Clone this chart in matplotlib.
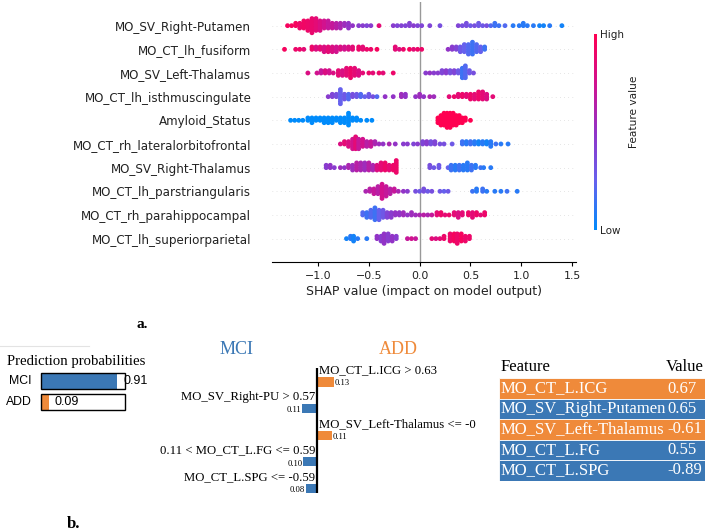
import matplotlib
matplotlib.use("Agg")
import matplotlib.pyplot as plt
import numpy as np
from matplotlib.colors import LinearSegmentedColormap
from matplotlib.cm import ScalarMappable
from matplotlib.lines import Line2D

W, H = 708, 532

# ---- SHAP summary data ----
features = ["MO_SV_Right-Putamen", "MO_CT_lh_fusiform", "MO_SV_Left-Thalamus",
            "MO_CT_lh_isthmuscingulate", "Amyloid_Status", "MO_CT_rh_lateralorbitofrontal",
            "MO_SV_Right-Thalamus", "MO_CT_lh_parstriangularis", "MO_CT_rh_parahippocampal",
            "MO_CT_lh_superiorparietal"]

# (shap value, dots stacked at that value, feature value 0=low .. 1=high)
right_putamen = [(-1.30,1,.95),(-1.26,1,.95),(-1.22,2,.95),(-1.18,3,.9),(-1.14,4,.92),(-1.10,5,.9),
                 (-1.06,7,.88),(-1.02,6,.85),(-0.98,5,.8),(-0.94,4,.75),(-0.90,4,.7),(-0.86,3,.7),
                 (-0.82,3,.65),(-0.78,3,.6),(-0.74,2,.55),(-0.70,3,.5),(-0.66,1,.5),(-0.60,1,.45),
                 (-0.56,1,.45),(-0.52,1,.4),(-0.48,1,.45),(-0.40,1,.85),(-0.26,1,.45),(-0.22,1,.4),
                 (-0.18,1,.42),(-0.14,1,.4),(-0.10,2,.42),(-0.06,1,.45),(-0.02,1,.4),(0.02,1,.4),
                 (0.10,1,.4),(0.20,1,.35),(0.38,1,.4),(0.42,1,.35),(0.46,2,.35),(0.50,1,.3),
                 (0.54,1,.35),(0.58,2,.3),(0.62,1,.3),(0.66,1,.35),(0.70,1,.2),(0.74,2,.15),
                 (0.78,1,.15),(0.84,1,.2),(0.92,1,.1),(0.98,1,.1),(1.02,2,.1),(1.06,1,.1),
                 (1.12,1,.1),(1.18,1,.05),(1.22,1,.05),(1.28,1,.1),(1.40,1,.05)]
lh_fusiform = [(-1.33,1,.95),(-1.22,1,.9),(-1.18,1,.9),(-1.14,1,.85),(-1.06,2,.9),(-1.02,2,.8),
               (-0.98,2,.85),(-0.94,3,.8),(-0.90,3,.85),(-0.86,3,.8),(-0.82,3,.75),(-0.78,2,.8),
               (-0.74,2,.75),(-0.70,2,.8),(-0.66,2,.85),(-0.60,2,.9),(-0.56,2,.85),(-0.52,1,.9),
               (-0.48,1,.9),(-0.42,1,.95),(-0.24,2,.85),(-0.20,1,.8),(-0.16,1,.9),(-0.10,1,.95),
               (-0.06,1,.85),(-0.02,1,.9),(0.02,1,.9),(0.28,1,.5),(0.32,2,.45),(0.36,2,.4),
               (0.40,3,.3),(0.44,4,.25),(0.48,5,.2),(0.52,6,.15),(0.56,4,.2),(0.60,3,.25),(0.64,2,.15)]
left_thalamus = [(-1.10,1,.8),(-1.01,1,.75),(-0.97,2,.7),(-0.93,2,.8),(-0.89,2,.75),(-0.85,1,.8),
                 (-0.80,3,.85),(-0.76,3,.8),(-0.72,4,.85),(-0.68,5,.9),(-0.64,4,.85),(-0.60,3,.8),
                 (-0.56,1,.85),(-0.50,1,.9),(-0.46,1,.85),(-0.40,1,.9),(-0.36,1,.85),(-0.26,1,.9),
                 (0.06,1,.45),(0.10,1,.5),(0.14,1,.45),(0.18,1,.45),(0.22,2,.4),(0.26,2,.45),
                 (0.30,2,.35),(0.34,2,.4),(0.38,2,.3),(0.42,5,.15),(0.45,6,.2),(0.49,2,.3),(0.53,1,.35)]
lh_isthmus = [(-0.90,1,.45),(-0.86,2,.4),(-0.82,2,.35),(-0.78,7,.25),(-0.74,3,.3),(-0.70,3,.2),
              (-0.66,2,.35),(-0.62,2,.3),(-0.58,2,.2),(-0.54,1,.25),(-0.50,2,.3),(-0.46,1,.35),
              (-0.42,1,.2),(-0.34,1,.5),(-0.26,1,.5),(-0.18,2,.55),(-0.14,2,.5),(-0.04,1,.5),
              (0.00,2,.55),(0.04,1,.5),(0.10,1,.6),(0.14,1,.55),(0.29,1,.85),(0.34,1,.9),
              (0.38,2,.85),(0.42,2,.9),(0.46,2,.85),(0.50,3,.9),(0.54,3,.85),(0.58,4,.9),
              (0.62,4,.85),(0.66,3,.8),(0.72,1,.85)]
amyloid = [(-1.27,1,0),(-1.23,1,0),(-1.19,1,0),(-1.15,1,0),(-1.10,2,0),(-1.06,3,0),(-1.02,2,0),
           (-0.98,2,0),(-0.94,3,0),(-0.90,3,0),(-0.86,3,0),(-0.82,2,0),(-0.78,3,0),(-0.74,3,0),
           (-0.70,6,0),(-0.66,2,0),(-0.62,2,0),(-0.58,1,0),(-0.52,1,0),(-0.47,1,0),
           (0.18,3,1),(0.21,5,1),(0.24,6,1),(0.27,7,1),(0.30,7,1),(0.33,6,1),(0.36,5,1),
           (0.39,4,1),(0.42,3,1),(0.45,2,1),(0.50,1,1)]
rh_latorb = [(-0.78,1,.8),(-0.74,2,.85),(-0.70,3,.8),(-0.66,5,.75),(-0.63,6,.85),(-0.60,5,.7),
             (-0.56,4,.75),(-0.52,3,.65),(-0.48,3,.7),(-0.44,2,.6),(-0.40,1,.55),(-0.36,1,.5),
             (-0.30,1,.6),(-0.24,1,.5),(-0.16,1,.45),(-0.12,1,.45),(-0.06,1,.4),(-0.02,1,.45),
             (0.03,2,.4),(0.07,2,.45),(0.11,2,.35),(0.15,2,.4),(0.20,1,.35),(0.24,1,.35),
             (0.32,1,.3),(0.42,2,.15),(0.46,2,.1),(0.50,2,.15),(0.54,2,.1),(0.58,2,.05),
             (0.62,2,.1),(0.66,2,.05),(0.70,3,.1),(0.75,1,.15),(0.80,1,.1),(0.87,1,.1)]
right_thalamus = [(-0.92,2,.45),(-0.88,2,.5),(-0.84,1,.45),(-0.78,1,.55),(-0.74,1,.5),(-0.70,2,.6),
                  (-0.66,3,.55),(-0.62,4,.65),(-0.58,4,.6),(-0.54,4,.55),(-0.50,4,.65),(-0.46,3,.6),
                  (-0.42,3,.8),(-0.38,4,.85),(-0.34,4,.9),(-0.30,3,.85),(-0.26,3,.9),(-0.23,6,.9),
                  (0.10,2,.35),(0.14,1,.3),(0.19,2,.3),(0.28,1,.25),(0.31,3,.15),(0.35,3,.1),
                  (0.39,3,.15),(0.43,3,.1),(0.47,4,.1),(0.51,3,.15),(0.55,2,.1),(0.60,1,.15),
                  (0.63,1,.1),(0.70,1,.1)]
lh_parstri = [(-0.53,1,.6),(-0.49,2,.65),(-0.45,3,.7),(-0.41,4,.65),(-0.37,7,.75),(-0.33,5,.7),
              (-0.29,3,.65),(-0.25,2,.7),(-0.21,1,.6),(-0.16,1,.5),(-0.12,1,.45),(-0.04,1,.35),
              (0.00,1,.3),(0.04,2,.35),(0.08,1,.3),(0.12,1,.35),(0.20,1,.3),(0.24,1,.25),
              (0.28,1,.3),(0.52,1,.15),(0.56,2,.1),(0.62,2,.15),(0.66,1,.1),(0.74,1,.1),
              (0.80,1,.1),(0.86,1,.15),(0.96,1,.1)]
rh_parahip = [(-0.56,2,.2),(-0.52,3,.15),(-0.48,4,.2),(-0.44,6,.15),(-0.40,5,.25),(-0.36,4,.3),
              (-0.32,3,.4),(-0.28,3,.45),(-0.24,2,.5),(-0.20,2,.5),(-0.16,2,.55),(-0.12,1,.5),
              (-0.08,2,.55),(-0.04,1,.55),(0.00,1,.6),(0.04,1,.65),(0.08,1,.6),(0.12,1,.7),
              (0.17,2,.85),(0.21,2,.9),(0.25,1,.85),(0.29,1,.9),(0.34,2,.85),(0.38,3,.8),
              (0.42,2,.85),(0.48,2,.9),(0.52,3,.85),(0.56,2,.9),(0.60,1,.85),(0.64,2,.9)]
lh_suppar = [(-0.72,1,.05),(-0.68,2,.1),(-0.65,3,.05),(-0.61,1,.1),(-0.52,1,.1),(-0.42,2,.5),
             (-0.38,3,.45),(-0.35,5,.5),(-0.31,4,.45),(-0.27,3,.5),(-0.23,2,.45),(-0.12,1,.7),
             (-0.08,1,.75),(-0.04,1,.7),(0.12,1,.85),(0.16,1,.8),(0.20,1,.85),(0.24,2,.9),
             (0.30,4,.9),(0.34,4,.95),(0.37,5,.9),(0.41,4,.95),(0.45,3,.9),(0.49,2,.9)]
shap_rows = [right_putamen, lh_fusiform, left_thalamus, lh_isthmus, amyloid,
             rh_latorb, right_thalamus, lh_parstri, rh_parahip, lh_suppar]

# ---- LIME data ----
prob_labels = ["MCI", "ADD"]
prob_values = [0.91, 0.09]
lime_rules = ["MO_CT_L.ICG > 0.63", "MO_SV_Right-PU > 0.57", "MO_SV_Left-Thalamus <= -0",
              "0.11 < MO_CT_L.FG <= 0.59", "MO_CT_L.SPG <= -0.59"]
lime_weights = [0.13, -0.11, 0.11, -0.10, -0.08]
table_features = ["MO_CT_L.ICG", "MO_SV_Right-Putamen", "MO_SV_Left-Thalamus",
                  "MO_CT_L.FG", "MO_CT_L.SPG"]
table_values = ["0.67", "0.65", "-0.61", "0.55", "-0.89"]
table_class = ["ADD", "MCI", "ADD", "MCI", "MCI"]

BLUE = "#3b78b5"
ORANGE = "#ef8a3a"
SERIF = "Liberation Serif"

fig = plt.figure(figsize=(W / 100, H / 100), dpi=100)


def px_axes(x0, y0, x1, y1):
    return fig.add_axes([x0 / W, 1 - y1 / H, (x1 - x0) / W, (y1 - y0) / H])


def ftext(x, y, s, **kw):
    fig.text(x / W, 1 - y / H, s, **kw)


# ---- a. SHAP beeswarm ----
cmap = LinearSegmentedColormap.from_list(
    "shap_rb", [(0.0, 0.545, 0.984), (0.40, 0.38, 0.93), (0.57, 0.20, 0.78),
                (0.82, 0.07, 0.56), (1.0, 0.0, 0.318)])

ax = px_axes(271.5, 2, 575.5, 262.3)
n = len(features)
for i, row in enumerate(shap_rows):
    pos = n - 1 - i
    ax.axhline(pos, color="#cccccc", lw=0.5, dashes=(1, 5), zorder=-1)
    xs, ys, cs = [], [], []
    for x, k, c in row:
        for j in range(k):
            off = np.ceil(j / 2) * ((j % 2) * 2 - 1)
            xs.append(x)
            ys.append(pos + off * 0.1)
            cs.append(c)
    ax.scatter(xs, ys, c=cs, cmap=cmap, vmin=0, vmax=1, s=12, linewidth=0, zorder=3)

ax.axvline(0, color="#999999", lw=1, zorder=-1)
ax.set_xlim(-1.458, 1.534)
ax.set_ylim(-1, n)
ax.set_yticks(range(n))
ax.set_yticklabels(features[::-1], fontsize=8.6, color="#222222")
ax.set_xticks([-1.0, -0.5, 0.0, 0.5, 1.0, 1.5])
ax.tick_params("y", length=0, pad=14.5)
ax.tick_params("x", labelsize=7.9, length=3, labelcolor="#222222")
for s in ["left", "right", "top"]:
    ax.spines[s].set_visible(False)
ax.set_xlabel("SHAP value (impact on model output)", fontsize=9, labelpad=3, color="#222222")

cax = px_axes(594, 34, 596.8, 230)
cb = fig.colorbar(ScalarMappable(cmap=cmap, norm=plt.Normalize(0, 1)), cax=cax, ticks=[0, 1])
cb.set_ticklabels(["Low", "High"])
cb.ax.tick_params(labelsize=7.5, length=0, pad=2, labelcolor="#222222")
cb.outline.set_visible(False)
ftext(634, 112, "Feature value", rotation=90, fontsize=7.6, ha="center", va="center", color="#222222")

ftext(142, 324, "a.", family=SERIF, fontweight="bold", fontsize=11, ha="center", va="center")
ftext(74, 524, "b.", family=SERIF, fontweight="bold", fontsize=12, ha="center", va="center")

# ---- b. LIME prediction probabilities ----
fig.add_artist(Line2D([0, 89 / W], [1 - 346 / H] * 2, color="#e3e3e3", lw=0.8))
ftext(7, 361, "Prediction probabilities", family=SERIF, fontsize=10.6, va="center")
axp = px_axes(41, 370.5, 125, 412.5)
axp.barh(range(2), prob_values, height=0.76, color=[BLUE, ORANGE])
axp.barh(range(2), [1, 1], height=0.76, fill=False, edgecolor="black", lw=1, clip_on=False)
for i, (lab, v) in enumerate(zip(prob_labels, prob_values)):
    axp.text(-0.11, i, lab, ha="right", va="center", fontsize=8.8, family="Liberation Sans")
    axp.text(v + 0.07, i, f"{v:.2f}", ha="left", va="center", fontsize=9, family="Liberation Sans")
axp.set_xlim(0, 1)
axp.set_ylim(1.5, -0.5)
axp.axis("off")

# ---- LIME explanation ----
ftext(236.7, 349, "MCI", color=BLUE, family=SERIF, fontsize=13, ha="center", va="center")
ftext(398.3, 349, "ADD", color=ORANGE, family=SERIF, fontsize=13, ha="center", va="center")
axe = px_axes(316.7 - 67.5, 368, 316.7 + 67.5, 493)
axe.barh(range(len(lime_weights)), lime_weights, height=0.34,
         color=[ORANGE if w > 0 else BLUE for w in lime_weights])
axe.axvline(0, color="black", lw=1.6)
for i, (rule, w) in enumerate(zip(lime_rules, lime_weights)):
    if w > 0:
        axe.text(0.019, i - 0.43, rule, ha="left", va="center", family=SERIF, fontsize=9.2, clip_on=False)
        axe.text(w + 0.006, i + 0.05, f"{abs(w):.2f}", ha="left", va="center", family=SERIF, fontsize=6.2)
    else:
        axe.text(-0.013, i - 0.43, rule, ha="right", va="center", family=SERIF, fontsize=9.2, clip_on=False)
        axe.text(w - 0.006, i + 0.07, f"{abs(w):.2f}", ha="right", va="center", family=SERIF, fontsize=6.2)
axe.set_xlim(-0.5, 0.5)
axe.set_ylim(4.17, -0.526)
axe.axis("off")

# ---- feature value table ----
axt = px_axes(499, 357, 705, 480.7)
rows = np.arange(len(table_features)) + 0.5
axt.barh(rows, [1] * len(rows), height=1, left=0,
         color=[ORANGE if c == "ADD" else BLUE for c in table_class], edgecolor="white", lw=0.6)
axt.text(0.005, -0.54, "Feature", ha="left", va="center", family=SERIF, fontsize=12)
axt.text(0.995, -0.54, "Value", ha="right", va="center", family=SERIF, fontsize=12)
for r, f, v in zip(rows, table_features, table_values):
    axt.text(0.005, r, f, ha="left", va="center", family=SERIF, fontsize=12, color="white")
    axt.text(0.818, r, v, ha="left", va="center", family=SERIF, fontsize=12, color="white")
axt.set_xlim(0, 1)
axt.set_ylim(5, -1.04)
axt.axis("off")

fig.savefig("out.png", dpi=100)
